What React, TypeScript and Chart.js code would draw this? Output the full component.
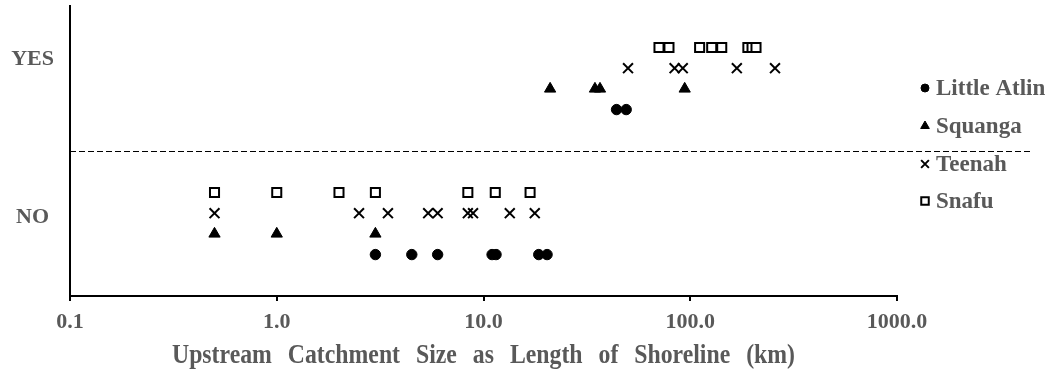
import React, { useEffect, useRef } from 'react';
import { Chart, registerables } from 'chart.js';
import { drawPoint } from 'chart.js/helpers';

Chart.register(...registerables);

// ---- data ----
const xTickValues = [0.1, 1, 10, 100, 1000];
const xTickLabels = ['0.1', '1.0', '10.0', '100.0', '1000.0'];
const yCategories = ['NO', 'YES'];
const seriesNames = ['Little Atlin', 'Squanga', 'Teenah', 'Snafu'];

const littleAtlinNo = [3, 4.5, 6, 11, 11.5, 18.5, 20.3];
const littleAtlinYes = [44, 49];
const squangaNo = [0.5, 1, 3];
const squangaYes = [21, 34.6, 36.6, 94];
const teenahNo = [0.5, 2.5, 3.45, 5.4, 6, 8.4, 8.9, 13.4, 17.7];
const teenahYes = [50, 84, 92, 168, 257];
const snafuNo = [0.5, 1, 2, 3, 8.4, 11.4, 16.8];
const snafuYes = [70.6, 78.9, 111, 127, 142, 190, 199, 208];

const xTitle = 'Upstream Catchment Size as Length of Shoreline (km)';

// ---- presentation ----
const TEXT = '#595959';
const FONT = '"Liberation Serif", "Times New Roman", serif';
const rowOffset = [2 / 7, 3 / 7, 4 / 7, 5 / 7];
const labelPos = [0.545, 1.635];

const styles = [
  { pointStyle: 'circle', radius: 5.2, bg: '#000', bw: 1, legendR: 4 },
  { pointStyle: 'triangle', radius: 6.5, bg: '#000', bw: 1, legendR: 5 },
  { pointStyle: 'crossRot', radius: 7, bg: '#000', bw: 2, legendR: 5.5 },
  { pointStyle: 'rect', radius: 6.4, bg: '#fff', bw: 2, legendR: 5.3 },
];

const seriesValues = [
  [littleAtlinNo, littleAtlinYes],
  [squangaNo, squangaYes],
  [teenahNo, teenahYes],
  [snafuNo, snafuYes],
];

const overlay = {
  id: 'overlay',
  beforeDatasetsDraw(chart: any) {
    const ctx = chart.ctx;
    const xs = chart.scales.x;
    const ys = chart.scales.y;
    const yp = Math.round(ys.getPixelForValue(1)) + 0.5;
    ctx.save();
    ctx.strokeStyle = '#000';
    ctx.lineWidth = 1;
    ctx.setLineDash([6, 3]);
    ctx.beginPath();
    ctx.moveTo(xs.left, yp);
    ctx.lineTo(1032, yp);
    ctx.stroke();
    ctx.restore();
  },
  afterDraw(chart: any) {
    const ctx = chart.ctx;
    ctx.save();
    // legend
    const legendY = [88, 126, 164, 201];
    seriesNames.forEach((name, i) => {
      const s = styles[i];
      ctx.fillStyle = s.bg;
      ctx.strokeStyle = '#000';
      ctx.lineWidth = s.bw;
      drawPoint(ctx, { pointStyle: s.pointStyle, radius: s.legendR, rotation: 0, borderWidth: s.bw }, 925, legendY[i]);
      ctx.fillStyle = TEXT;
      ctx.font = `bold 23px ${FONT}`;
      ctx.textAlign = 'left';
      ctx.textBaseline = 'middle';
      ctx.fillText(name, 936, legendY[i] + 1);
    });
    ctx.restore();
    // axis title: tall, slightly condensed, justified words
    ctx.save();
    const sx = 0.88;
    ctx.font = `bold 27px ${FONT}`;
    ctx.fillStyle = TEXT;
    ctx.textBaseline = 'alphabetic';
    ctx.textAlign = 'left';
    const words = xTitle.split(' ');
    const widths = words.map((w) => ctx.measureText(w).width * sx);
    const total = widths.reduce((a, b) => a + b, 0);
    const x0 = 172;
    const x1 = 795;
    const gap = (x1 - x0 - total) / (words.length - 1);
    let cx = x0;
    words.forEach((w, i) => {
      ctx.save();
      ctx.translate(cx, 363);
      ctx.scale(sx, 1);
      ctx.fillText(w, 0, 0);
      ctx.restore();
      cx += widths[i] + gap;
    });
    ctx.restore();
  },
};

export default function App() {
  const ref = useRef<HTMLCanvasElement>(null);
  useEffect(() => {
    if (!ref.current) return;
    const datasets = seriesNames.map((name, i) => {
      const s = styles[i];
      const data: { x: number; y: number }[] = [];
      seriesValues[i].forEach((vals, cat) => {
        vals.forEach((v) => data.push({ x: v, y: cat + rowOffset[i] }));
      });
      return {
        label: name,
        data,
        pointStyle: s.pointStyle,
        pointRadius: s.radius,
        pointHoverRadius: s.radius,
        backgroundColor: s.bg,
        borderColor: '#000',
        pointBorderWidth: s.bw,
        borderWidth: s.bw,
        showLine: false,
        clip: false,
      };
    });
    const chart = new Chart(ref.current, {
      type: 'scatter',
      data: { datasets },
      options: {
        animation: false,
        responsive: false,
        layout: { autoPadding: false, padding: { top: 6, right: 154, left: 0, bottom: 0 } },
        plugins: { legend: { display: false }, tooltip: { enabled: false } },
        scales: {
          x: {
            type: 'logarithmic',
            min: 0.1,
            max: 1000,
            afterBuildTicks: (scale: any) => {
              scale.ticks = xTickValues.map((v) => ({ value: v }));
            },
            afterFit: (scale: any) => {
              scale.height = 74;
            },
            ticks: {
              autoSkip: false,
              maxRotation: 0,
              padding: 8,
              color: TEXT,
              font: { family: FONT, size: 22, weight: 'bold' },
              callback: (_v: any, idx: number) => xTickLabels[idx],
            },
            grid: {
              display: true,
              drawOnChartArea: false,
              drawTicks: true,
              tickLength: 5,
              color: '#000',
              lineWidth: 2,
            },
            border: { display: true, color: '#000', width: 2 },
          },
          y: {
            type: 'linear',
            min: 0,
            max: 2,
            afterBuildTicks: (scale: any) => {
              scale.ticks = labelPos.map((v) => ({ value: v }));
            },
            afterFit: (scale: any) => {
              scale.width = 70;
              scale.paddingTop = 0;
              scale.paddingBottom = 0;
            },
            ticks: {
              padding: 16,
              crossAlign: 'center',
              color: TEXT,
              font: { family: FONT, size: 22, weight: 'bold' },
              callback: (_v: any, idx: number) => yCategories[idx],
            },
            grid: { display: false, drawTicks: false },
            border: { display: true, color: '#000', width: 2 },
          },
        },
      } as any,
      plugins: [overlay],
    });
    return () => chart.destroy();
  }, []);
  return (
    <div style={{ position: 'fixed', left: 0, top: 0, width: 1051, height: 370, background: '#fff' }}>
      <canvas ref={ref} width={1051} height={370} />
    </div>
  );
}
